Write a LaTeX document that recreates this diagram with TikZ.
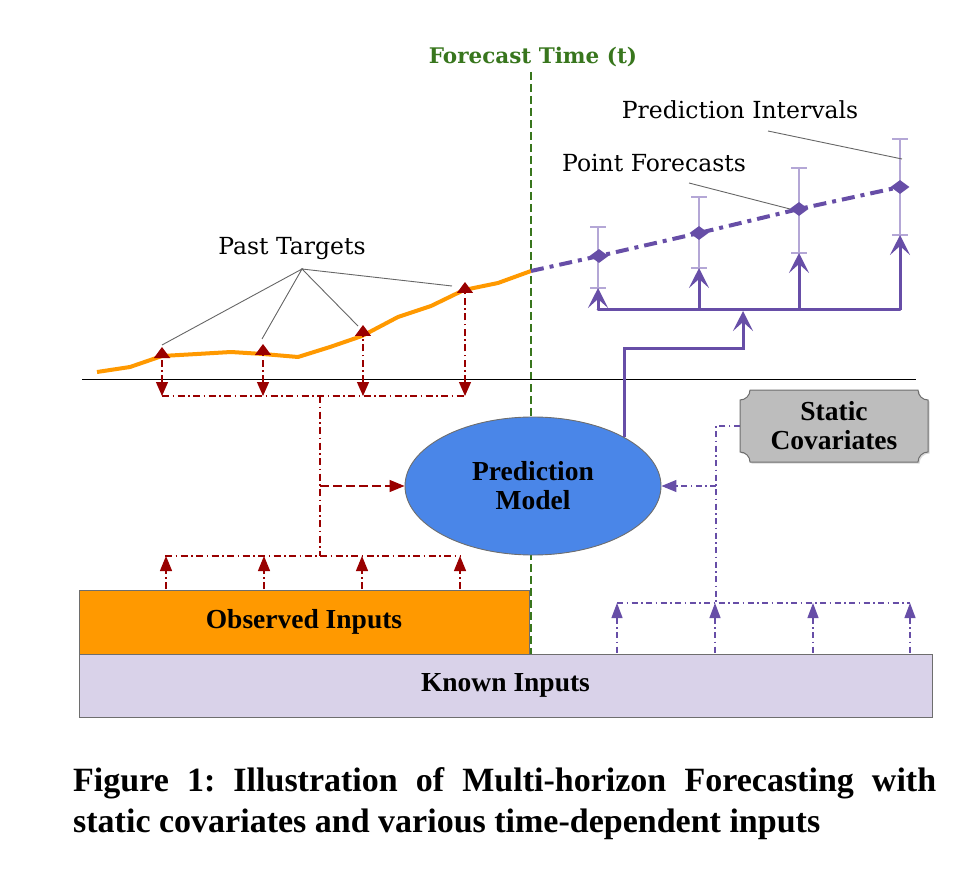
\documentclass[tikz,border=0pt]{standalone}
\usepackage{fontspec}
\setmainfont{Liberation Serif}
\newfontfamily\lblfont{DejaVu Serif}
\usetikzlibrary{arrows.meta,shapes.geometric,calc}
\definecolor{orng}{HTML}{FF9900}
\definecolor{dred}{HTML}{990000}
\definecolor{purp}{HTML}{674EA7}
\definecolor{lpurp}{HTML}{B4A7D6}
\definecolor{gfill}{HTML}{BDBDBD}
\definecolor{kfill}{HTML}{D9D2E9}
\definecolor{mblue}{HTML}{4A86E8}
\definecolor{fgreen}{HTML}{38761D}
\definecolor{bgrey}{HTML}{6E6E6E}
\frenchspacing
\begin{document}
\begin{tikzpicture}[x=1pt,y=1pt,
  lbl/.style={font=\lblfont\fontsize{23.5}{27}\selectfont, inner sep=0},
  boldlbl/.style={font=\bfseries\fontsize{27.5}{30}\selectfont, align=center, inner sep=0},
  leader/.style={draw=black!60, line width=0.9pt},
  reddd/.style={draw=dred, line width=1.2pt, dash pattern=on 7pt off 3.5pt on 1.5pt off 3.5pt},
  purdd/.style={draw=purp, line width=1.2pt, dash pattern=on 6pt off 3.5pt on 1.5pt off 3.5pt},
  tri/.style={-{Triangle[width=12pt,length=15pt]}},
  pline/.style={draw=purp, line width=3pt},
  ptip/.style={-{Stealth[width=20pt,length=20pt,inset=9pt]}},
  ibar/.style={draw=lpurp, line width=1.3pt},
  fdiam/.style={diamond, fill=purp, minimum width=19pt, minimum height=14pt, inner sep=0},
  boxstyle/.style={draw=bgrey, line width=1pt, boldlbl}
]
\useasboundingbox (0,0) rectangle (974,-874);

% forecast time
\node[font=\lblfont\bfseries\fontsize{21.5}{24}\selectfont, text=fgreen, inner sep=0] (ft) at (533,-57) {Forecast Time (t)};
\coordinate (gtop) at (531,-72);
\coordinate (gbot) at (531,-654);
\draw[fgreen, line width=1.4pt, dash pattern=on 8pt off 4pt] (gtop) -- (gbot);

% black baseline
\coordinate (bl) at (82,-379);
\coordinate (br) at (916,-379);
\draw[black, line width=0.8pt] (bl) -- (br);

% orange past target line
\foreach \n/\x/\y in {0/97/372,1/130/367,2/162/356,3/197/354,4/231/352,5/263/354,6/298/357,7/330/347,8/362/336,9/398/317,10/431/306,11/464/290,12/498/283,13/531/271}
  \coordinate (p\n) at (\x,-\y);
\draw[orng, line width=4pt, line join=round]
  (p0) -- (p1) -- (p2) -- (p3) -- (p4) -- (p5) -- (p6) -- (p7) -- (p8) -- (p9) -- (p10) -- (p11) -- (p12) -- (p13);

% red connectors from past targets
\foreach \i/\x/\y in {1/162/347,2/263/344,3/363/325,4/465/282} {
  \coordinate (t\i) at (\x,-\y);
  \coordinate (h\i) at (\x,-396);
  \draw[reddd, {Triangle[width=12pt,length=14pt]}-{Triangle[width=16pt,length=11pt]}] (h\i) -- (t\i);
}
\draw[reddd] (h1) -- (h4);
\coordinate (rt) at (320,-396);
\coordinate (rm) at (320,-486);
\coordinate (rb) at (320,-556);
\draw[reddd] (rt) -- (rb);

% boxes
\node[boxstyle, fill=kfill, minimum width=853pt, minimum height=63pt] (known) at (505.5,-685.5) {Known Inputs};
\node[boxstyle, fill=orng, minimum width=450pt, minimum height=64pt] (obs) at (304,-622) {Observed Inputs};

% red connectors from observed inputs
\coordinate (b0) at (165,-556);
\coordinate (b5) at (460,-556);
\draw[reddd] (b0) -- (b5);
\foreach \i/\x in {1/166,2/264,3/362,4/460} {
  \coordinate (ob\i) at (\x,-589);
  \coordinate (bt\i) at (\x,-556);
  \draw[reddd, tri] (ob\i) -- (bt\i);
}

% model
\node[ellipse, draw=bgrey, fill=mblue, line width=0.9pt, minimum width=256pt, minimum height=138pt, boldlbl] (model) at (533,-486) {Prediction\\[-1pt]Model};
\draw[dred, line width=1.3pt, dash pattern=on 9pt off 4pt, tri] (rm) -- (model.west);

% static covariates
\path[fill=black!15] (751.5,-391.5) -- (919.5,-391.5) arc[start angle=180,end angle=270,radius=10] -- (929.5,-453.5) arc[start angle=90,end angle=180,radius=10] -- (751.5,-463.5) arc[start angle=0,end angle=90,radius=10] -- (741.5,-401.5) arc[start angle=270,end angle=360,radius=10] -- cycle;
\path[draw=bgrey, fill=gfill, line width=1pt] (750,-390) -- (918,-390) arc[start angle=180,end angle=270,radius=10] -- (928,-452) arc[start angle=90,end angle=180,radius=10] -- (750,-462) arc[start angle=0,end angle=90,radius=10] -- (740,-400) arc[start angle=270,end angle=360,radius=10] -- cycle;
\node[boldlbl, minimum width=188pt, minimum height=72pt] (static) at (834,-426) {Static\\[-1pt]Covariates};

\coordinate (sc1) at (716,-426);
\coordinate (sm) at (716,-486);
\coordinate (sb) at (716,-603);
\draw[purdd] (static.west) -- (sc1) -- (sb);
\draw[purdd, tri] (sm) -- (model.east);
\coordinate (k0) at (617,-603);
\coordinate (k5) at (910,-603);
\draw[purdd] (k0) -- (k5);
\foreach \i/\x in {1/617,2/715,3/813,4/910} {
  \coordinate (kb\i) at (\x,-653);
  \coordinate (kt\i) at (\x,-603);
  \draw[purdd, {Triangle[width=11pt,length=15pt]}-] (kt\i) -- (kb\i);
}

% prediction intervals
\foreach \i/\x/\u/\l in {1/598/227/288,2/699/197/268,3/799/168/253,4/900/139/235} {
  \coordinate (up\i) at (\x,-\u);
  \coordinate (lo\i) at (\x,-\l);
  \draw[ibar] (up\i) -- (lo\i);
  \draw[ibar] ($(up\i)+(-8,0)$) -- ($(up\i)+(8,0)$);
  \draw[ibar] ($(lo\i)+(-8,0)$) -- ($(lo\i)+(8,0)$);
}

% model output to forecasts
\coordinate (j1) at (743,-349);
\coordinate (j2) at (743,-310);
\draw[pline, ptip] (model.28.6) -- (model.28.6 |- j1) -- (j1) -- ($(j2)+(0,-1)$);
\coordinate (bus1) at (598,-310);
\coordinate (bus4) at (900,-310);
\draw[pline, line cap=round] (bus1) -- (bus4);
\foreach \i/\x in {1/598,2/699,3/799,4/900} {
  \coordinate (bs\i) at (\x,-310);
  \draw[pline, ptip] (bs\i) -- (lo\i);
}

% point forecasts
\node[fdiam] (f1) at (599,-256) {};
\node[fdiam] (f2) at (699,-233) {};
\node[fdiam] (f3) at (799,-209) {};
\node[fdiam] (f4) at (900,-187) {};
\draw[purp, line width=4pt, dash pattern=on 13pt off 6pt on 4pt off 6pt] (p13) -- (f1.center) -- (f2.center) -- (f3.center) -- (f4.center);

% labels with leaders
\node[lbl] (pt) at (292,-249) {Past Targets};
\coordinate (apex) at (302,-269);
\coordinate (pl1) at (162,-345);
\coordinate (pl2) at (262,-339);
\coordinate (pl3) at (358,-326);
\coordinate (pl4) at (452,-286);
\draw[leader] (pl1) -- (apex) -- (pl2);
\draw[leader] (pl3) -- (apex) -- (pl4);

\node[lbl] (pf) at (654,-163) {Point Forecasts};
\coordinate (pfa) at (689,-183);
\coordinate (pfb) at (790,-209);
\draw[leader] (pfa) -- (pfb);

\node[lbl] (pi) at (740,-110) {Prediction Intervals};
\coordinate (pia) at (768,-131);
\coordinate (pib) at (902,-159);
\draw[leader] (pia) -- (pib);

% caption
\node[anchor=base west, inner sep=0, font=\bfseries\fontsize{34}{42}\selectfont] (cap1) at (73,-791) {\makebox[863pt][s]{Figure 1: Illustration of Multi-horizon Forecasting with}};
\node[anchor=base west, inner sep=0, font=\bfseries\fontsize{34}{42}\selectfont] (cap2) at (73,-832) {static covariates and various time-dependent inputs};
\end{tikzpicture}
\end{document}
